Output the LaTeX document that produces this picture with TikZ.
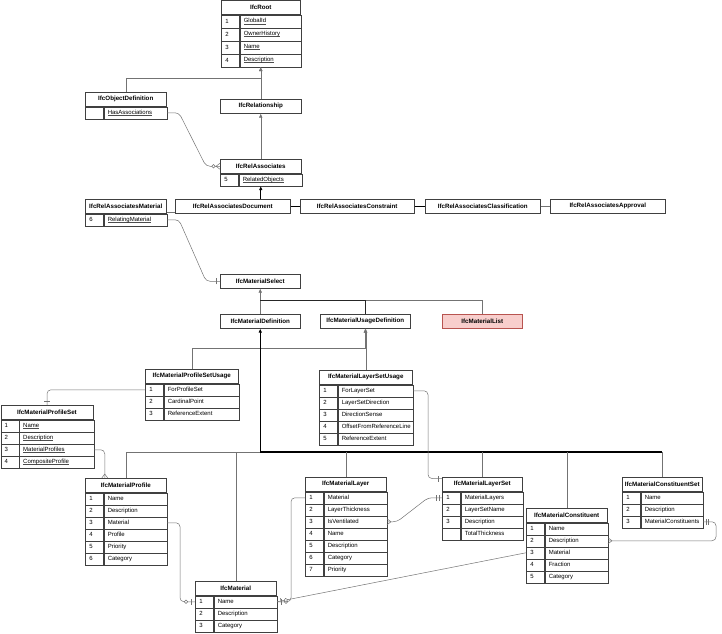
\documentclass[tikz,border=0pt]{standalone}
\usepackage{fontspec}
\setmainfont{Liberation Sans}
\usetikzlibrary{arrows.meta,calc,decorations.markings}

\definecolor{listfill}{HTML}{F8CECC}
\definecolor{listline}{HTML}{B85450}

% thin underline for key attributes
\newcommand{\attrul}[1]{\setbox0\hbox{#1}\rlap{\color{black!70}\rule[-0.9pt]{\wd0}{0.35pt}}\box0}

\tikzset{
  ent/.style={draw=black!75, fill=white, line width=0.5pt, inner sep=0pt, anchor=north west,
    minimum height=14pt, font=\fontsize{6.2}{7}\selectfont\bfseries},
  numcell/.style={draw=black!75, line width=0.5pt, anchor=north west, inner xsep=4pt, inner ysep=0pt,
    text width=10pt, align=left, font=\fontsize{6}{7}\selectfont},
  namecell/.style={draw=black!75, line width=0.5pt, anchor=north west, inner xsep=4pt, inner ysep=0pt,
    align=left, font=\fontsize{6}{7}\selectfont},
  conn/.style={draw=black!55, line width=0.5pt},
  rel/.style={conn, rounded corners=4pt},
  thk/.style={draw=black, line width=1.1pt},
  gen/.style={conn, -{Latex[length=4pt,width=3.5pt]}},
  % ER markers, placed along the connector
  endbar/.style={postaction={decorate, decoration={markings,
    mark=at position -#1 with {\draw[conn] (0pt,-3pt) -- (0pt,3pt);}}}},
  endbar/.default=4pt,
  startbar/.style={postaction={decorate, decoration={markings,
    mark=at position #1 with {\draw[conn] (0pt,-3pt) -- (0pt,3pt);}}}},
  startbar/.default=4pt,
  endcirc/.style={postaction={decorate, decoration={markings,
    mark=at position -#1 with {\draw[conn, fill=white] (0pt,0pt) circle (1.7pt);}}}},
  endcirc/.default=9pt,
  endfoot/.style={postaction={decorate, decoration={markings,
    mark=at position 1 with {\draw[conn] (-4pt,0pt) -- (0pt,3pt) (-4pt,0pt) -- (0pt,-3pt);}}}},
  startfoot/.style={postaction={decorate, decoration={markings,
    mark=at position 0 with {\draw[conn] (4pt,0pt) -- (0pt,3pt) (4pt,0pt) -- (0pt,-3pt);}}}}
}

% table: [row height] name, left, top, width, title, rows
\newcommand{\enttable}[7][12]{%
  \node[ent, minimum width=#5pt] (#2) at (#3,#4) {#6};
  \pgfmathsetmacro{\tw}{#5-26}
  \foreach \n/\t [count=\i] in {#7} {
    \node[numcell, minimum height=#1pt] (#2-n\i) at ($(#2.south west)+(0,{(\i-1)*#1})$) {\n};
    \node[namecell, minimum height=#1pt, text width=\tw pt] (#2-\i) at (#2-n\i.north east) {\t};
    \coordinate (#2-bot) at (#2.south |- #2-\i.south);
  }
}

\begin{document}
\begin{tikzpicture}[x=1pt, y=-1pt]
\useasboundingbox (0,0) rectangle (722,633);

	% Root and relationship classes
	\enttable[13]{root}{221}{0}{79}{IfcRoot}{1/\attrul{GlobalId},2/\attrul{OwnerHistory},3/\attrul{Name},4/\attrul{Description}}
	\enttable{objdef}{85}{92}{81}{IfcObjectDefinition}{/\attrul{HasAssociations}}
	\node[ent, minimum width=81pt] (relship) at (220,99) {IfcRelationship};
	\enttable{relassoc}{220}{159}{81}{IfcRelAssociates}{5/\attrul{RelatedObjects}}

	% The IfcRelAssociates subtypes
	\enttable{ram}{85}{199}{81}{IfcRelAssociatesMaterial}{6/\attrul{RelatingMaterial}}
	\node[ent, minimum width=115pt] (doc) at (175,199) {IfcRelAssociatesDocument};
	\node[ent, minimum width=114pt] (cons) at (300,199) {IfcRelAssociatesConstraint};
	\node[ent, minimum width=115pt] (clas) at (425,199) {IfcRelAssociatesClassification};
	\node[ent, minimum width=115pt] (appr) at (550,199) {IfcRelAssociatesApproval};

	% Material select and definitions
	\node[ent, minimum width=80pt] (msel) at (220,274) {IfcMaterialSelect};
	\node[ent, minimum width=80pt] (mdef) at (220,314) {IfcMaterialDefinition};
	\node[ent, minimum width=90pt] (muse) at (320,314) {IfcMaterialUsageDefinition};
	\node[ent, minimum width=80pt, fill=listfill, draw=listline] (mlist) at (442,314) {IfcMaterialList};

	% Usage tables
	\enttable{psu}{145}{369}{93}{IfcMaterialProfileSetUsage}{1/ForProfileSet,2/CardinalPoint,3/ReferenceExtent}
	\enttable{lsu}{319}{370}{93}{IfcMaterialLayerSetUsage}{1/ForLayerSet,2/LayerSetDirection,3/DirectionSense,4/OffsetFromReferenceLine,5/ReferenceExtent}

	% Material tables
	\enttable{pset}{0.5}{405}{92.5}{IfcMaterialProfileSet}{1/\attrul{Name},2/\attrul{Description},3/\attrul{MaterialProfiles},4/\attrul{CompositeProfile}}
	\enttable{prof}{85}{478}{81}{IfcMaterialProfile}{1/Name,2/Description,3/Material,4/Profile,5/Priority,6/Category}
	\enttable{mat}{195}{581}{81}{IfcMaterial}{1/Name,2/Description,3/Category}
	\enttable{lay}{305}{477}{81}{IfcMaterialLayer}{1/Material,2/LayerThickness,3/IsVentilated,4/Name,5/Description,6/Category,7/Priority}
	\enttable{lset}{442}{477}{80}{IfcMaterialLayerSet}{1/MaterialLayers,2/LayerSetName,3/Description,/TotalThickness}
	\enttable{con}{526}{508}{81}{IfcMaterialConstituent}{1/Name,2/Description,3/Material,4/Fraction,5/Category}
	\enttable{cset}{622}{477}{80}{IfcMaterialConstituentSet}{1/Name,2/Description,3/MaterialConstituents}

	% Junction points
	\coordinate (j1) at (root-bot |- 0,78);
	\coordinate (j2) at (msel.south |- 0,300);
	\coordinate (j3) at (mdef.south |- 0,452);
	\coordinate (j4) at (muse.south |- 0,348);

	% Inheritance up to IfcRoot
	\draw[gen] (relship.north) -- (root-bot);
	\draw[gen] (objdef.north) |- (j1) -- (root-bot);
	\draw[gen] (relassoc.north) -- (relship.south);
	\draw[rel, endfoot, endcirc=6.5pt] (objdef-1.east) -- ++(12,0) -- ([xshift=-14pt]relassoc.west) -- (relassoc.west);
	\draw[gen, thk] (relassoc-bot |- doc.north) -- (relassoc-bot);
	\draw[conn] ([yshift=1pt]ram.south east) -- ([yshift=1pt]doc.south west);
	\draw[thk] (doc) -- (cons);
	\draw[thk] (cons) -- (clas);
	\draw[conn] (clas) -- (appr);
	\draw[rel, endbar] (ram-1.east) -- ++(12,0) -- ([xshift=-14pt]msel.west) -- (msel.west);

	% Inheritance of the material classes
	\draw[gen] (mdef.north) -- (msel.south);
	\draw[conn] (mlist.north) |- (j2);
	\draw[conn, draw=black!85, line width=0.8pt] (muse.north) |- (j2);
	\draw[gen] (psu.north) |- (j4) -- (muse.south);
	\draw[gen] (lsu.north) -- (lsu.north |- muse.south);
	\draw[gen, thk] (j3) -- (mdef.south);
	\draw[conn] (prof.north |- j3) -- (j3);
	\draw[thk] (j3) -- (cset.north |- j3);
	\foreach \b in {prof, mat, lay, lset, con, cset}
		\draw[conn] (\b.north |- j3) -- (\b.north);

	% Relations between attributes
	\draw[rel, endbar] (psu-n1.west) -| (pset.north);
	\draw[rel, endfoot] (pset-3.east) -| ([xshift=-21pt]prof.north);
	\draw[rel, endbar] (lsu-1.east) -- ++(15,0) |- ([yshift=-1.5pt]lset.north west);
	\draw[rel, endbar, endcirc] (prof-3.east) -- ++(13,0) |- (mat-n1.west);
	\draw[rel, endbar, endcirc] (lay-n1.west) -- ++(-14,0) |- (mat-1.east);
	\draw[conn, endbar, endcirc] (con-n3.west) -- (mat-1.east);
	\draw[rel, startfoot, endbar=3pt, endbar=5.5pt] (lay-3.east) -- ++(10,0) -- ([xshift=-14pt]lset-n1.west) -- (lset-n1.west);
	\draw[rel, startbar=3pt, startbar=5.5pt, endfoot] (cset-3.east) -- ++(13,0) |- (con-2.east);

\end{tikzpicture}
\end{document}
